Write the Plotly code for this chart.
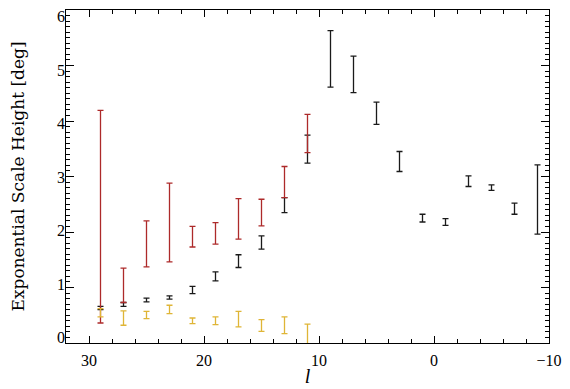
import plotly.graph_objects as go

# Galactic longitude l
l_black = [29, 27, 25, 23, 21, 19, 17, 15, 13, 11, 9, 7, 5, 3, 1, -1, -3, -5, -7, -9]
black_lo = [0.60, 0.66, 0.74, 0.79, 0.89, 1.12, 1.36, 1.69, 2.35, 3.24, 4.61, 4.51, 3.94, 3.09, 2.18, 2.12, 2.82, 2.75, 2.32, 1.96]
black_hi = [0.66, 0.73, 0.81, 0.85, 1.02, 1.28, 1.59, 1.93, 2.62, 3.745, 5.63, 5.17, 4.34, 3.45, 2.32, 2.24, 3.01, 2.85, 2.52, 3.21]

l_red = [29, 27, 25, 23, 21, 19, 17, 15, 13, 11]
red_lo = [0.36, 0.73, 1.37, 1.46, 1.73, 1.78, 1.87, 2.11, 2.62, 3.43]
red_hi = [4.19, 1.35, 2.20, 2.88, 2.10, 2.17, 2.60, 2.59, 3.18, 4.12]

l_yellow = [29, 27, 25, 23, 21, 19, 17, 15, 13, 11]
yellow_lo = [0.47, 0.32, 0.44, 0.53, 0.35, 0.33, 0.29, 0.21, 0.17, -0.10]
yellow_hi = [0.62, 0.58, 0.57, 0.68, 0.45, 0.47, 0.57, 0.42, 0.47, 0.34]

x_ticks = [30, 20, 10, 0, -10]
y_ticks = [0, 1, 2, 3, 4, 5, 6]

FONT = "Liberation Serif"
TITLE_FONT = "DejaVu Serif"


def bar_trace(xs, lo, hi, color):
    mid = [(a + b) / 2 for a, b in zip(lo, hi)]
    err = [(b - a) / 2 for a, b in zip(lo, hi)]
    return go.Scatter(
        x=xs, y=mid, mode="markers",
        marker=dict(size=1, color="rgba(0,0,0,0)"),
        error_y=dict(type="data", array=err, symmetric=True,
                     color=color, thickness=1.3, width=3),
        showlegend=False, hoverinfo="skip", cliponaxis=True,
    )


fig = go.Figure()
fig.add_trace(bar_trace(l_black, black_lo, black_hi, "#1a1a1a"))
fig.add_trace(bar_trace(l_red, red_lo, red_hi, "#ad2a2a"))
fig.add_trace(bar_trace(l_yellow, yellow_lo, yellow_hi, "#dfb536"))
# empty trace so the label-only overlay axis is rendered
fig.add_trace(go.Scatter(x=[], y=[], yaxis="y2", showlegend=False, hoverinfo="skip"))

axis_common = dict(
    showgrid=False, zeroline=False, showline=True, linecolor="black",
    linewidth=1, mirror="ticks", ticks="inside", tickcolor="black",
    tickfont=dict(family=FONT, size=16, color="black"), automargin=False,
)

fig.update_layout(
    xaxis=dict(
        range=[32, -10], tickvals=x_ticks, ticklen=7, tickwidth=1, ticklabelstandoff=3,
        minor=dict(dtick=2, ticks="inside", ticklen=4, tickcolor="black", showgrid=False),
        title=dict(text="<i>l</i>", font=dict(family=FONT, size=20, color="black"), standoff=0),
        **axis_common,
    ),
    yaxis=dict(
        range=[0, 6], tickvals=y_ticks, ticklen=8, tickwidth=1, showticklabels=False,
        minor=dict(dtick=0.1, ticks="inside", ticklen=4, tickcolor="black", showgrid=False),
        title=dict(text="Exponential Scale Height [deg]",
                   font=dict(family=TITLE_FONT, size=17, color="black"), standoff=42),
        **axis_common,
    ),
    yaxis2=dict(
        overlaying="y", side="left", range=[-0.102, 6.121], tickvals=y_ticks,
        showgrid=False, zeroline=False, showline=False, ticks="",
        tickfont=dict(family=FONT, size=16, color="black"), automargin=False,
    ),
    width=562, height=381,
    margin=dict(l=58, r=21, t=1.5, b=45.5),
    paper_bgcolor="white", plot_bgcolor="white",
)

fig.write_html("out.html")
